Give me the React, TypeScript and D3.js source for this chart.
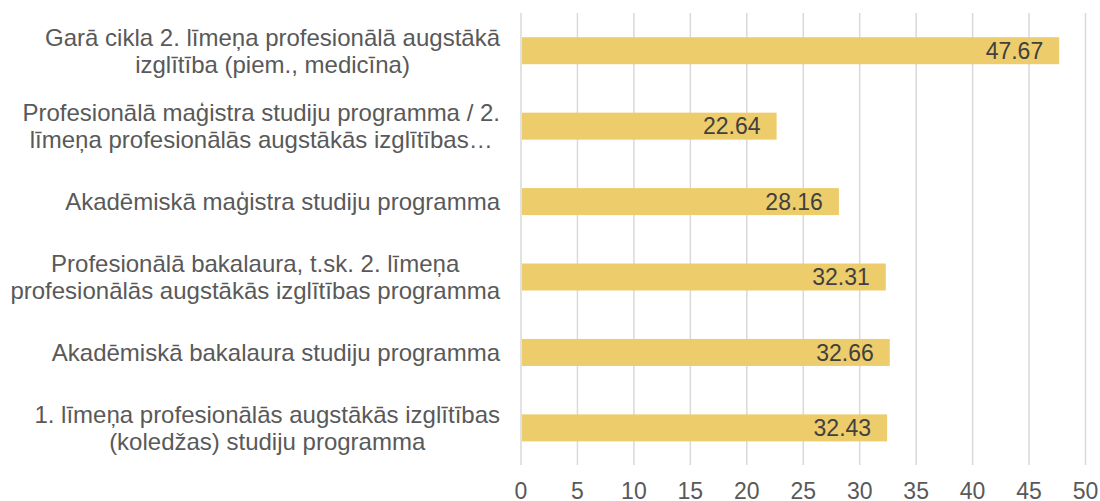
import React from "react";
import * as d3 from "d3";

const categories: string[][] = [
  ["Garā cikla 2. līmeņa profesionālā augstākā", "izglītība (piem., medicīna)"],
  ["Profesionālā maģistra studiju programma / 2.", "līmeņa profesionālās augstākās izglītības…"],
  ["Akadēmiskā maģistra studiju programma"],
  ["Profesionālā bakalaura, t.sk. 2. līmeņa", "profesionālās augstākās izglītības programma"],
  ["Akadēmiskā bakalaura studiju programma"],
  ["1. līmeņa profesionālās augstākās izglītības", "(koledžas) studiju programma"],
];
const values: number[] = [47.67, 22.64, 28.16, 32.31, 32.66, 32.43];
const ticks: number[] = [0, 5, 10, 15, 20, 25, 30, 35, 40, 45, 50];

const W = 1100;
const H = 501;
const FONT = "'Liberation Sans', Arial, sans-serif";

let ctx: CanvasRenderingContext2D | null = null;
function measure(text: string, size: number): number {
  if (!ctx) {
    const c = document.createElement("canvas");
    ctx = c.getContext("2d");
  }
  if (!ctx) return text.length * size * 0.5;
  ctx.font = `${size}px 'Liberation Sans', Arial, sans-serif`;
  return ctx.measureText(text).width;
}

export default function App() {
  const x = d3.scaleLinear().domain([0, 50]).range([521, 1085.5]);
  const y = d3
    .scaleBand<number>()
    .domain(d3.range(categories.length))
    .range([13, 465.6])
    .paddingInner(0.642)
    .paddingOuter(0.321);
  const bh = y.bandwidth();
  const fs = 23;
  const cfs = 24;
  const lineGap = 27;
  const labelRight = 500;

  return (
    <svg
      width={W}
      height={H}
      style={{ position: "absolute", left: 0, top: 0, background: "#fff" }}
      fontFamily={FONT}
    >
      {ticks.map((t) => (
        <line
          key={"g" + t}
          x1={x(t)}
          x2={x(t)}
          y1={13}
          y2={465}
          stroke="#D9D9D9"
          strokeWidth={1.5}
        />
      ))}
      {values.map((v, i) => {
        const y0 = y(i)!;
        return (
          <g key={"b" + i}>
            <rect x={x(0) + 1} y={y0} width={x(v) - x(0) - 1} height={bh} fill="#EDCC6C" />
            <text
              x={x(v) - 16}
              y={y0 + bh / 2}
              dy="0.36em"
              textAnchor="end"
              fontSize={fs}
              fill="#404040"
            >
              {v.toFixed(2)}
            </text>
          </g>
        );
      })}
      {categories.map((lines, i) => {
        const cy = y(i)! + bh / 2;
        const start = cy - ((lines.length - 1) * lineGap) / 2;
        const maxW = d3.max(lines, (l) => measure(l, cfs)) ?? 0;
        const cx = labelRight - maxW / 2;
        return (
          <text key={"c" + i} textAnchor="middle" fontSize={cfs} fill="#595959">
            {lines.map((l, j) => (
              <tspan key={j} x={cx} y={start + j * lineGap} dy="0.36em">
                {l}
              </tspan>
            ))}
          </text>
        );
      })}
      {ticks.map((t) => (
        <text
          key={"t" + t}
          x={x(t)}
          y={499}
          textAnchor="middle"
          fontSize={fs}
          fill="#595959"
        >
          {t}
        </text>
      ))}
    </svg>
  );
}
